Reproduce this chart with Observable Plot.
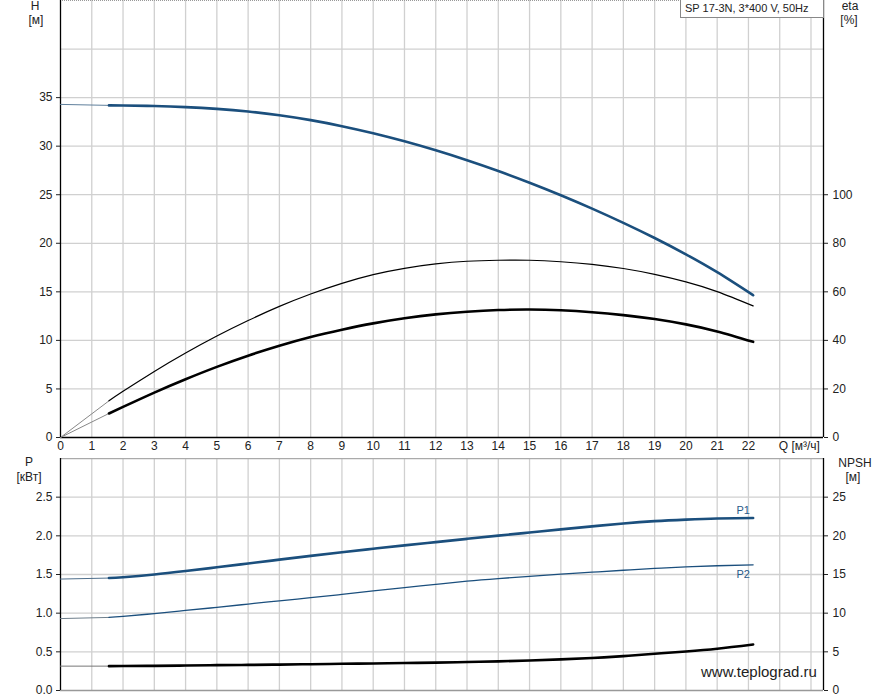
<!DOCTYPE html>
<html><head><meta charset="utf-8">
<script src="https://cdn.jsdelivr.net/npm/d3@7"></script>
<script src="https://cdn.jsdelivr.net/npm/@observablehq/plot@0.6"></script>
<style>
body{margin:0;background:#fff;font-family:"Liberation Sans",Arial,sans-serif;}
#wrap{position:relative;width:887px;height:700px;overflow:hidden;}
#wrap svg{position:absolute;left:0;background:transparent;}
.lbl{position:absolute;font-size:12px;color:#222;text-align:center;line-height:13px;white-space:nowrap;}
.title{position:absolute;left:680px;top:0;width:138px;height:17px;border:1px solid #888;border-top:none;font-size:11px;color:#222;padding-left:4px;line-height:16px;background:#fff;white-space:nowrap;}
.wm{position:absolute;left:701px;top:663px;font-size:15px;color:#222;}
</style></head><body><div id="wrap"></div>
<script>
// ---- data ----
const qFlow = [1.55, 2, 3, 4, 5, 6, 7, 8, 9, 10, 11, 12, 13, 14, 15, 16, 17, 18, 19, 20, 21, 22.15];
const head = [34.2, 34.19, 34.13, 34.02, 33.84, 33.57, 33.18, 32.68, 32.06, 31.33, 30.5, 29.57, 28.55, 27.44, 26.24, 24.95, 23.57, 22.1, 20.54, 18.86, 17.02, 14.65];
const etaPump = [15.1, 19.0, 27.2, 34.8, 41.8, 48.2, 54.0, 59.1, 63.5, 67.1, 69.7, 71.5, 72.6, 73.0, 73.0, 72.4, 71.3, 69.6, 67.2, 64.1, 60.1, 54.2];
const etaTotal = [9.9, 12.6, 18.5, 24.0, 29.1, 33.7, 37.8, 41.4, 44.4, 47.0, 49.1, 50.7, 51.8, 52.5, 52.7, 52.4, 51.6, 50.4, 48.8, 46.6, 43.7, 39.4];
const p1 = [1.454, 1.465, 1.5, 1.545, 1.593, 1.642, 1.692, 1.741, 1.788, 1.833, 1.877, 1.919, 1.961, 2.003, 2.043, 2.083, 2.122, 2.16, 2.19, 2.21, 2.224, 2.23];
const p2 = [0.945, 0.958, 0.995, 1.035, 1.075, 1.118, 1.16, 1.2, 1.243, 1.287, 1.33, 1.372, 1.413, 1.447, 1.477, 1.505, 1.53, 1.555, 1.578, 1.598, 1.613, 1.625];
const npsh = [3.15, 3.16, 3.19, 3.23, 3.28, 3.31, 3.35, 3.4, 3.45, 3.5, 3.55, 3.6, 3.68, 3.77, 3.88, 4.02, 4.2, 4.45, 4.75, 5.05, 5.4, 5.95];
// extrapolated (thin) parts from Q=0 to the first point
const qExt = [0, 1.55];
const headExt = [34.3, 34.2];
const etaPumpExt = [0, 15.1];
const etaTotalExt = [0, 9.9];
const p1Ext = [1.441, 1.454];
const p2Ext = [0.93, 0.945];
const npshExt = [3.15, 3.15];
// ticks
const xTicks = [0,1,2,3,4,5,6,7,8,9,10,11,12,13,14,15,16,17,18,19,20,21,22];
const xUnitTick = [23];
const xUnitLabel = "Q [м³/ч]";
const hTicks = [0,5,10,15,20,25,30,35];
const etaTicks = [0,20,40,60,80,100];
const pTicks = [0,0.5,1.0,1.5,2.0,2.5];
const npshTicks = [0,5,10,15,20,25];
const curveLabels = ["P1","P2"];

// ---- layout ----
const W = 887, ML = 60, MR = 64;
const xDom = [0, 24.4];
const BLUE = "#1b4f7d";
const GRID = "#d0d0d0";
const CURVE = "natural";
const pts = (xs, ys) => xs.map((x, i) => ({x, y: ys[i]}));
const wrap = document.getElementById("wrap");
const common = {width: W, marginLeft: ML, marginRight: MR, x: {domain: xDom, axis: null}, style: {fontSize: "12px", fontFamily: "Liberation Sans, Arial, sans-serif", color: "#222", background: "transparent"}};

// top panel: H
const topH = Plot.plot({...common, height: 458, marginTop: 0, marginBottom: 21,
  y: {domain: [0, 45], axis: null},
  marks: [
    Plot.gridX(d3.range(1, 25), {stroke: GRID, strokeOpacity: 1, strokeWidth: 1.3}),
    Plot.gridY(d3.range(5, 45, 5), {stroke: GRID, strokeOpacity: 1, strokeWidth: 1.3}),
    Plot.ruleY([45], {stroke: "#999", strokeDasharray: "1,1"}),
    Plot.axisY(hTicks, {tickSize: 4, tickPadding: 4, label: null}),
    Plot.axisX(xTicks, {tickSize: 0, tickPadding: 4, label: null}),
    Plot.axisX(xUnitTick, {tickSize: 0, tickPadding: 4, label: null, textAnchor: "start", dx: -1, tickFormat: () => xUnitLabel}),
    Plot.ruleX([0], {stroke: "#000", strokeWidth: 1.3}),
    Plot.ruleX([xDom[1]], {stroke: "#000", strokeWidth: 1.3}),
    Plot.ruleY([0], {stroke: "#000", strokeWidth: 1.3}),
    Plot.line(pts(qExt, headExt), {x: "x", y: "y", stroke: "#5f7f9c", strokeWidth: 1}),
    Plot.line(pts(qFlow, head), {x: "x", y: "y", stroke: BLUE, strokeWidth: 2.6, curve: CURVE})
  ]});
topH.style.top = "0px";
wrap.appendChild(topH);

// top panel: eta (right axis)
const topEta = Plot.plot({...common, height: 458, marginTop: 0, marginBottom: 21,
  y: {domain: [0, 180], axis: null},
  marks: [
    Plot.axisY(etaTicks, {anchor: "right", tickSize: 4, tickPadding: 5, label: null}),
    Plot.line(pts(qExt, etaPumpExt), {x: "x", y: "y", stroke: "#888", strokeWidth: 1}),
    Plot.line(pts(qExt, etaTotalExt), {x: "x", y: "y", stroke: "#888", strokeWidth: 1}),
    Plot.line(pts(qFlow, etaPump), {x: "x", y: "y", stroke: "#000", strokeWidth: 1.2, curve: CURVE}),
    Plot.line(pts(qFlow, etaTotal), {x: "x", y: "y", stroke: "#000", strokeWidth: 2.6, curve: CURVE})
  ]});
topEta.style.top = "0px";
wrap.appendChild(topEta);

// bottom panel: P
const p1Pts = pts(qFlow, p1), p2Pts = pts(qFlow, p2);
const botP = Plot.plot({...common, height: 242, marginTop: 0, marginBottom: 10,
  y: {domain: [0, 3], axis: null},
  marks: [
    Plot.gridX(d3.range(1, 25), {stroke: GRID, strokeOpacity: 1, strokeWidth: 1.3}),
    Plot.gridY(d3.range(0.5, 3, 0.5), {stroke: GRID, strokeOpacity: 1, strokeWidth: 1.3}),
    Plot.ruleY([3], {stroke: "#aaa", strokeWidth: 1.5}),
    Plot.ruleY([0], {stroke: "#999", strokeWidth: 1.3}),
    Plot.axisY(pTicks, {tickSize: 4, tickPadding: 4, label: null, tickFormat: d3.format(".1f")}),
    Plot.ruleX([0], {stroke: "#000", strokeWidth: 1.3}),
    Plot.ruleX([xDom[1]], {stroke: "#000", strokeWidth: 1.3}),
    Plot.line(pts(qExt, p1Ext), {x: "x", y: "y", stroke: "#4f6f8c", strokeWidth: 1}),
    Plot.line(pts(qExt, p2Ext), {x: "x", y: "y", stroke: "#6f7f8c", strokeWidth: 1}),
    Plot.line(p1Pts, {x: "x", y: "y", stroke: BLUE, strokeWidth: 2.6, curve: CURVE}),
    Plot.line(p2Pts, {x: "x", y: "y", stroke: BLUE, strokeWidth: 1.3, curve: CURVE}),
    Plot.text([p1Pts[p1Pts.length - 1]], {x: "x", y: "y", text: () => curveLabels[0], dx: -10, dy: -8, fill: "#2a5a8a", fontSize: 11}),
    Plot.text([p2Pts[p2Pts.length - 1]], {x: "x", y: "y", text: () => curveLabels[1], dx: -10, dy: 10, fill: "#2a5a8a", fontSize: 11})
  ]});
botP.style.top = "458px";
wrap.appendChild(botP);

// bottom panel: NPSH (right axis)
const botN = Plot.plot({...common, height: 242, marginTop: 0, marginBottom: 10,
  y: {domain: [0, 30], axis: null},
  marks: [
    Plot.axisY(npshTicks, {anchor: "right", tickSize: 4, tickPadding: 5, label: null}),
    Plot.line(pts(qExt, npshExt), {x: "x", y: "y", stroke: "#777", strokeWidth: 1}),
    Plot.line(pts(qFlow, npsh), {x: "x", y: "y", stroke: "#000", strokeWidth: 2.6, curve: CURVE})
  ]});
botN.style.top = "458px";
wrap.appendChild(botN);

// labels
function lbl(text, cx, top) {
  const d = document.createElement("div");
  d.className = "lbl"; d.textContent = text;
  d.style.left = (cx - 30) + "px"; d.style.width = "60px"; d.style.top = top + "px";
  wrap.appendChild(d);
}
lbl("H", 35, 0); lbl("[м]", 36, 14);
lbl("eta", 850, 0); lbl("[%]", 849, 14);
lbl("P", 29, 456); lbl("[кВт]", 29, 471);
lbl("NPSH", 855, 457); lbl("[м]", 853, 471);
const t = document.createElement("div"); t.className = "title"; t.textContent = "SP 17-3N, 3*400 V, 50Hz"; wrap.appendChild(t);
const w = document.createElement("div"); w.className = "wm"; w.textContent = "www.teplograd.ru"; wrap.appendChild(w);
</script></body></html>
